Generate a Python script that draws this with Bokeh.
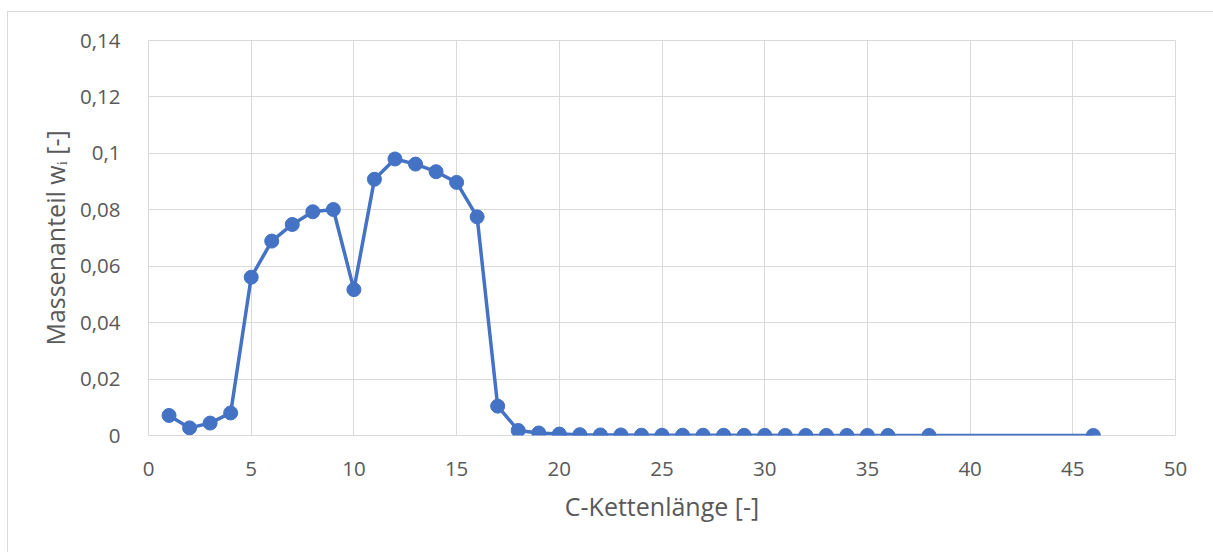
from bokeh.plotting import figure
from bokeh.models import FixedTicker, Range1d
from bokeh.embed import file_html
from bokeh.resources import INLINE

# Data
chain_length = list(range(1, 37)) + [38, 46]
mass_fraction = [0.0071, 0.0027, 0.0044, 0.0080, 0.0561, 0.0689, 0.0748, 0.0793, 0.0801, 0.0517,
                 0.0908, 0.0980, 0.0962, 0.0935, 0.0897, 0.0775, 0.0104, 0.0018, 0.0009, 0.0005,
                 0.0003, 0.0002, 0.0002, 0.0001, 0.0001, 0.0001, 0.0001, 0.00008, 0.00006, 0.00005,
                 0.00004, 0.00004, 0.00003, 0.00003, 0.00002, 0.00002, 0.00002, 0.00001]
x_ticks = [0, 5, 10, 15, 20, 25, 30, 35, 40, 45, 50]
y_ticks = [0, 0.02, 0.04, 0.06, 0.08, 0.1, 0.12, 0.14]
y_tick_labels = ["0", "0,02", "0,04", "0,06", "0,08", "0,1", "0,12", "0,14"]
x_title = "C-Kettenlänge [-]"
y_title = "Massenanteil wᵢ [-]"

FONT = "Open Sans"
TXT = "#595959"
GRID = "#d9d9d9"
BLUE = "#4472C4"

p = figure(width=1206, height=541, output_backend="svg", toolbar_location=None,
           x_range=Range1d(0, 50), y_range=Range1d(0, 0.14),
           min_border_left=140, min_border_right=39, min_border_top=28, min_border_bottom=118)
p.styles = {"margin-left": "7px", "margin-top": "11px",
            "border-left": "1px solid #d9d9d9", "border-top": "1px solid #d9d9d9"}
p.background_fill_color = "white"
p.border_fill_color = "white"
p.outline_line_color = GRID

p.line(chain_length, mass_fraction, line_color=BLUE, line_width=3.5)
p.scatter(chain_length, mass_fraction, size=14, fill_color=BLUE, line_color=BLUE)

p.xaxis.ticker = FixedTicker(ticks=x_ticks)
p.yaxis.ticker = FixedTicker(ticks=y_ticks)
p.yaxis.major_label_overrides = dict(zip(y_ticks, y_tick_labels))

for ax in (p.xaxis[0], p.yaxis[0]):
    ax.axis_line_color = None
    ax.major_tick_line_color = None
    ax.minor_tick_line_color = None
    ax.major_label_text_font = FONT
    ax.major_label_text_font_size = "20.5px"
    ax.major_label_text_color = TXT
    ax.axis_label_text_font = FONT
    ax.axis_label_text_font_size = "25px"
    ax.axis_label_text_font_style = "normal"
    ax.axis_label_text_color = TXT

p.xaxis.axis_label = x_title
p.yaxis.axis_label = y_title
p.xaxis.major_label_standoff = 20
p.yaxis.major_label_standoff = 22
p.xaxis.axis_label_standoff = 10
p.yaxis.axis_label_standoff = 5

p.xgrid.grid_line_color = GRID
p.ygrid.grid_line_color = GRID
p.xgrid.grid_line_width = 1
p.ygrid.grid_line_width = 1

open("out.html", "w").write(file_html(p, INLINE))
